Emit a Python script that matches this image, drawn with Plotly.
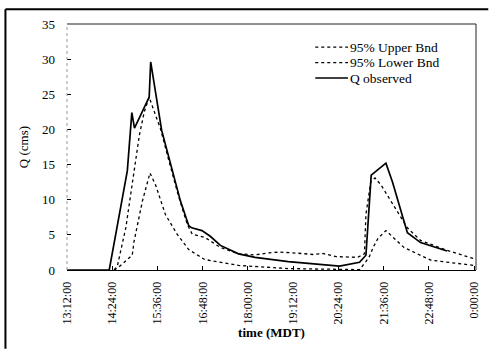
import plotly.graph_objects as go

# time in decimal hours (MDT), discharge Q in cms
obs_t = [13.2, 14.32, 14.80, 14.92, 14.99, 15.38, 15.42, 15.71, 16.21, 16.43, 16.51, 16.78,
         17.0, 17.27, 17.75, 18.19, 19.07, 20.43, 20.96, 21.13, 21.27, 21.40, 21.66, 21.83,
         22.23, 22.58, 23.28]
obs_q = [0, 0, 14.1, 22.4, 20.2, 24.6, 29.6, 19.9, 9.8, 6.3, 6.0, 5.6,
         4.8, 3.5, 2.3, 1.8, 1.2, 0.55, 1.1, 2.1, 13.5, 14.1, 15.2, 12.6,
         5.3, 3.9, 2.7]

upper_t = [14.45, 14.54, 14.76, 14.93, 15.12, 15.25, 15.38, 15.55, 15.68, 15.91, 16.17, 16.39,
           16.52, 16.87, 17.27, 17.75, 18.19, 18.58, 18.85, 19.3, 19.74, 19.99, 20.34, 20.91,
           21.09, 21.13, 21.26, 21.37, 21.53, 22.23, 22.58, 23.28, 24.0]
upper_q = [0, 0.65, 6.0, 12.1, 19.2, 22.5, 24.6, 22.0, 20.1, 15.4, 10.3, 6.5,
           5.1, 4.6, 3.2, 2.3, 2.15, 2.45, 2.55, 2.4, 2.2, 2.35, 1.9, 1.8,
           2.3, 7.9, 12.6, 13.1, 12.1, 6.0, 4.2, 2.8, 1.6]

lower_t = [14.45, 14.55, 14.93, 14.98, 15.2, 15.4, 15.55, 15.81, 16.12, 16.43, 16.85, 17.75,
           19.07, 20.0, 20.96, 21.13, 21.22, 21.33, 21.45, 21.66, 22.14, 22.85, 24.0]
lower_q = [0, 0.3, 2.1, 4.1, 9.8, 13.8, 12.1, 7.9, 5.1, 2.9, 1.5, 0.65,
           0.2, 0.1, 0.05, 1.2, 1.9, 3.3, 4.5, 5.6, 3.2, 1.4, 0.65]

tick_vals = [13.2, 14.4, 15.6, 16.8, 18.0, 19.2, 20.4, 21.6, 22.8, 24.0]
tick_text = ["13:12:00", "14:24:00", "15:36:00", "16:48:00", "18:00:00",
             "19:12:00", "20:24:00", "21:36:00", "22:48:00", "0:00:00"]

series_names = ["95% Upper Bnd", "95% Lower Bnd", "Q observed"]

SERIF = "Liberation Serif"

fig = go.Figure()
fig.add_trace(go.Scatter(x=upper_t, y=upper_q, mode="lines", name=series_names[0],
                         line=dict(color="black", width=1.3, dash="dot")))
fig.add_trace(go.Scatter(x=lower_t, y=lower_q, mode="lines", name=series_names[1],
                         line=dict(color="black", width=1.3, dash="dot")))
fig.add_trace(go.Scatter(x=obs_t, y=obs_q, mode="lines", name=series_names[2],
                         line=dict(color="black", width=1.7)))

# manual legend (compact row spacing as in the reference)
leg_rows = [0.906, 0.843, 0.780]
leg_dash = ["dot", "dot", "solid"]
leg_w = [1.3, 1.3, 1.5]
shapes = []
annotations = []
for name, yy, d, w in zip(series_names, leg_rows, leg_dash, leg_w):
    shapes.append(dict(type="line", xref="paper", yref="paper", x0=0.607, x1=0.687,
                       y0=yy, y1=yy, line=dict(color="black", width=w, dash=d)))
    annotations.append(dict(xref="paper", yref="paper", x=0.690, y=yy, text=name,
                            showarrow=False, xanchor="left", yanchor="middle",
                            borderpad=0,
                            font=dict(family=SERIF, size=13.5, color="black")))

# plot frame: top and right solid, left dotted faint
shapes += [
    dict(type="line", xref="paper", yref="paper", x0=0, x1=1, y0=1, y1=1,
         line=dict(color="#222", width=1)),
    dict(type="line", xref="paper", yref="paper", x0=1, x1=1, y0=0, y1=1,
         line=dict(color="#222", width=1)),
    dict(type="line", xref="paper", yref="paper", x0=0, x1=0, y0=0, y1=1,
         line=dict(color="#999", width=1, dash="dot")),
    # outer scanned-page border (left and top)
    dict(type="line", xref="paper", yref="paper", x0=-0.1505, x1=-0.1505, y0=1.06, y1=-0.32,
         line=dict(color="black", width=2)),
    dict(type="line", xref="paper", yref="paper", x0=-0.1505, x1=1.03, y0=1.06, y1=1.06,
         line=dict(color="black", width=2)),
]

fig.update_layout(
    width=493, height=350,
    margin=dict(l=67, r=14, t=24, b=77),
    paper_bgcolor="white", plot_bgcolor="white",
    showlegend=False,
    font=dict(family=SERIF, color="black"),
    shapes=shapes,
    annotations=annotations,
    xaxis=dict(
        range=[13.2, 24.05], tickvals=tick_vals, ticktext=tick_text,
        tickangle=-90, ticks="inside", ticklen=4, tickcolor="black",
        showline=True, linecolor="black", linewidth=1,
        showgrid=False, zeroline=False,
        tickfont=dict(family=SERIF, size=12), ticklabelstandoff=6,
        title=dict(text="<b>time (MDT)</b>", font=dict(family=SERIF, size=13), standoff=4),
    ),
    yaxis=dict(
        range=[0, 35], tickvals=[0, 5, 10, 15, 20, 25, 30, 35],
        ticks="inside", ticklen=4, tickcolor="black",
        showline=False, showgrid=False, zeroline=False,
        tickfont=dict(family=SERIF, size=13), ticklabelstandoff=11,
        title=dict(text="Q (cms)", font=dict(family=SERIF, size=13), standoff=10),
    ),
)

fig.write_html("out.html")
